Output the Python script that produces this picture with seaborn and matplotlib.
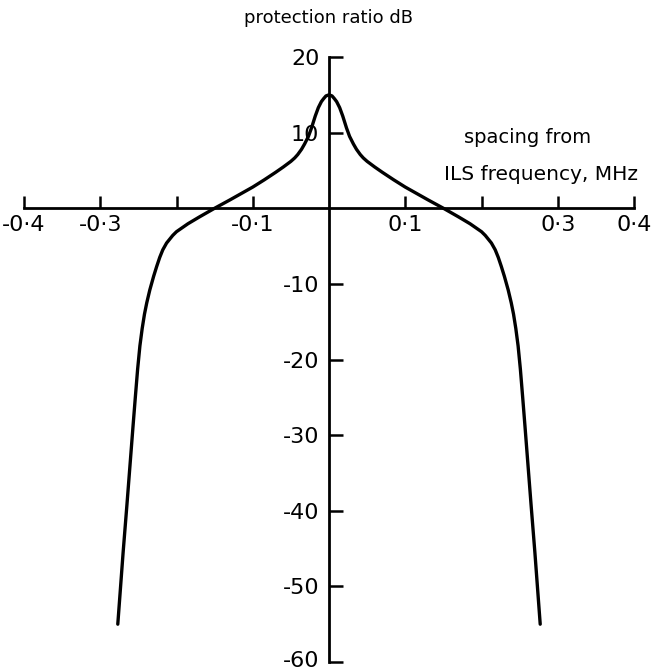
import numpy as np
import pandas as pd
import matplotlib
matplotlib.use('Agg')
import matplotlib.pyplot as plt
import matplotlib.transforms as mtransforms
import seaborn as sns

# spacing from ILS frequency (MHz) and protection ratio (dB)
freq = [-0.277, -0.270, -0.265, -0.261, -0.257, -0.254, -0.251, -0.248, -0.245,
        -0.242, -0.239, -0.235, -0.230, -0.226, -0.222, -0.218, -0.213, -0.205,
        -0.200, -0.185, -0.170, -0.150, -0.130, -0.100, -0.085, -0.070, -0.060,
        -0.050, -0.045, -0.041, -0.036, -0.032, -0.027, -0.023, -0.018, -0.014,
        -0.010, -0.007, -0.004, 0.0,
        0.004, 0.007, 0.010, 0.014, 0.018, 0.023, 0.027, 0.032, 0.036, 0.041,
        0.045, 0.050, 0.060, 0.070, 0.085, 0.100, 0.130, 0.150, 0.170, 0.185,
        0.200, 0.205, 0.213, 0.218, 0.222, 0.226, 0.230, 0.235, 0.239, 0.242,
        0.245, 0.248, 0.251, 0.254, 0.257, 0.261, 0.265, 0.270, 0.277]
ratio_db = [-55.0, -45.5, -39.2, -34.0, -28.8, -25.0, -21.3, -18.2, -15.9,
            -14.0, -12.5, -10.8, -9.0, -7.7, -6.5, -5.5, -4.6, -3.6,
            -3.1, -2.05, -1.15, 0.0, 1.1, 2.8, 3.75, 4.75, 5.45,
            6.2, 6.65, 7.1, 7.8, 8.5, 9.5, 10.6, 12.2, 13.3,
            14.1, 14.5, 14.85, 15.0,
            14.85, 14.5, 14.1, 13.3, 12.2, 10.6, 9.5, 8.5, 7.8, 7.1,
            6.65, 6.2, 5.45, 4.75, 3.75, 2.8, 1.1, 0.0, -1.15, -2.05,
            -3.1, -3.6, -4.6, -5.5, -6.5, -7.7, -9.0, -10.8, -12.5, -14.0,
            -15.9, -18.2, -21.3, -25.0, -28.8, -34.0, -39.2, -45.5, -55.0]

x_ticks = [-0.4, -0.3, -0.2, -0.1, 0.1, 0.2, 0.3, 0.4]
x_labels = ['-0·4', '-0·3', '', '-0·1', '0·1', '', '0·3', '0·4']
y_ticks = [20, 10, -10, -20, -30, -40, -50, -60]
y_labels = ['20', '10', '-10', '-20', '-30', '-40', '-50', '-60']

df = pd.DataFrame({'freq': freq, 'db': ratio_db})

sns.set_style('white')
plt.rcParams['font.family'] = ['DejaVu Sans']
plt.rcParams['text.color'] = 'black'

fig = plt.figure(figsize=(6.51, 6.71), dpi=100)
ax = fig.add_axes([24/651, 9/671, 610/651, 605/671])

sns.lineplot(data=df, x='freq', y='db', sort=False, estimator=None,
             color='black', lw=2.4, ax=ax)
for l in ax.lines:
    l.set_solid_joinstyle('round')

ax.set_xlim(-0.4, 0.4)
ax.set_ylim(-60, 20)

# axes crossing at the origin
ax.spines['left'].set_position(('data', 0))
ax.spines['bottom'].set_position(('data', 0))
ax.spines['top'].set_visible(False)
ax.spines['right'].set_visible(False)
for s in ['left', 'bottom']:
    ax.spines[s].set_linewidth(2.0)
    ax.spines[s].set_color('black')

ax.set_xticks(x_ticks)
ax.set_xticklabels(x_labels)
ax.set_yticks(y_ticks)
ax.set_yticklabels(y_labels)
ax.tick_params(axis='x', bottom=True, direction='in', length=8.5, width=1.8, pad=5,
               labelsize=16, colors='black')
ax.tick_params(axis='y', left=True, direction='in', length=10, width=1.8, pad=7,
               labelsize=16, colors='black')
ax.set_xlabel('')
ax.set_ylabel('')

# nudge the bottom label up a little so it stays inside the picture
lab = ax.get_yticklabels()[-1]
lab.set_transform(lab.get_transform() +
                  mtransforms.ScaledTranslation(0, 2/72, fig.dpi_scale_trans))

ax.text(0, 24.5, 'protection ratio dB', ha='center', va='baseline',
        fontsize=13, color='black')
ax.text(0.261, 8.6, 'spacing from', ha='center', va='baseline',
        fontsize=14, color='black')
ax.text(0.278, 3.7, 'ILS frequency, MHz', ha='center', va='baseline',
        fontsize=14.5, color='black')

plt.savefig('out.png', dpi=100)
plt.close()
